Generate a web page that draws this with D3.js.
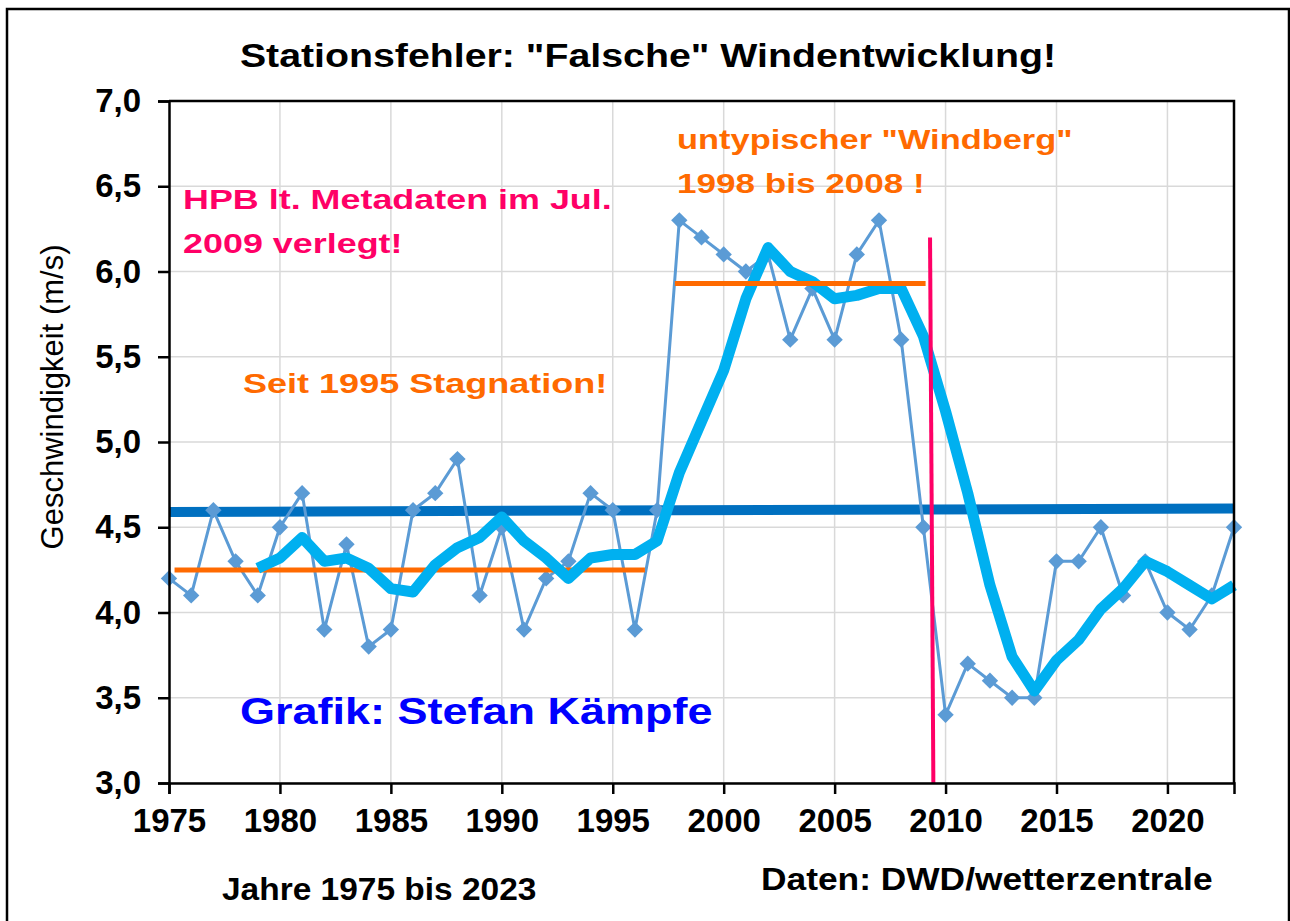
<!DOCTYPE html>
<html>
<head>
<meta charset="utf-8">
<script src="https://cdn.jsdelivr.net/npm/d3@7"></script>
<style>
  body { margin: 0; background: #fff; }
  svg text { font-family: "Liberation Sans", Arial, sans-serif; }
</style>
</head>
<body>
<div id="chart"></div>
<script>
// Jahreswerte Windgeschwindigkeit (m/s)
var years = d3.range(1975, 2024)
var speed = [4.2, 4.1, 4.6, 4.3, 4.1, 4.5, 4.7, 3.9, 4.4, 3.8,
             3.9, 4.6, 4.7, 4.9, 4.1, 4.5, 3.9, 4.2, 4.3, 4.7,
             4.6, 3.9, 4.6, 6.3, 6.2, 6.1, 6.0, 6.1, 5.6, 5.9,
             5.6, 6.1, 6.3, 5.6, 4.5, 3.4, 3.7, 3.6, 3.5, 3.5,
             4.3, 4.3, 4.5, 4.1, 4.3, 4.0, 3.9, 4.1, 4.5]

var avgYears = d3.range(1979, 2024)
var avgSpeed = [4.26, 4.32, 4.44, 4.30, 4.32, 4.26, 4.14, 4.12, 4.28, 4.38,
                4.44, 4.56, 4.42, 4.32, 4.20, 4.32, 4.34, 4.34, 4.42, 4.82,
                5.12, 5.42, 5.84, 6.14, 6.00, 5.94, 5.84, 5.86, 5.90, 5.90,
                5.62, 5.18, 4.70, 4.16, 3.74, 3.54, 3.72, 3.84, 4.02, 4.14,
                4.30, 4.24, 4.16, 4.08, 4.16]

// linearer Trend (dunkelblau)
var trendYears = [1975, 2023]
var trendSpeed = [4.59, 4.61]

// orange Mittelwert-Linien
var level1Years = [1975.25, 1996.45]
var level1Speed = [4.25, 4.25]
var level2Years = [1997.8, 2009.1]
var level2Speed = [5.93, 5.93]

// Verlegung der Station (rote Linie)
var moveYears = [2009.3, 2009.45]
var moveSpeed = [6.2, 3.0]

var yTicks = [3.0, 3.5, 4.0, 4.5, 5.0, 5.5, 6.0, 6.5, 7.0]
var xTicks = [1975, 1980, 1985, 1990, 1995, 2000, 2005, 2010, 2015, 2020]

var margin = {top: 101, right: 56, bottom: 138, left: 169},
    width = 1290 - margin.left - margin.right,
    height = 921 - margin.top - margin.bottom

var x = d3.scaleLinear().domain([1975, 2023]).range([0, width])
var y = d3.scaleLinear().domain([3, 7]).range([height, 0])

var root = d3.select("#chart")
  .append("svg")
  .attr("width", 1290)
  .attr("height", 921)

// Rahmen
root.append("rect")
  .attr("x", 7).attr("y", 9)
  .attr("width", 1282).attr("height", 930)
  .attr("fill", "#fff")
  .attr("stroke", "#000")
  .attr("stroke-width", 2.5)

// Beschriftungen (im Original etwas in die Breite gezogen)
function note(px, py, size, sx, color, txt, anchor) {
  root.append("text")
    .attr("transform", "translate(" + px + "," + py + ") scale(" + sx + ",1)")
    .attr("text-anchor", anchor || "start")
    .attr("fill", color)
    .style("font-size", size + "px").style("font-weight", "bold")
    .text(txt)
}

note(648, 67, 34, 1.156, "#000", 'Stationsfehler: "Falsche" Windentwicklung!', "middle")

var svg = root.append("g")
  .attr("transform", "translate(" + margin.left + "," + margin.top + ")")

// Gitter
svg.append("g")
  .selectAll("line")
  .data(yTicks)
  .enter().append("line")
    .attr("x1", 0).attr("x2", width)
    .attr("y1", function(d) { return y(d) }).attr("y2", function(d) { return y(d) })
    .attr("stroke", "#d9d9d9").attr("stroke-width", 1.5)

svg.append("g")
  .selectAll("line")
  .data(xTicks.slice(1))
  .enter().append("line")
    .attr("x1", function(d) { return x(d) }).attr("x2", function(d) { return x(d) })
    .attr("y1", 0).attr("y2", height)
    .attr("stroke", "#d9d9d9").attr("stroke-width", 1.5)

var line = d3.line()
  .x(function(d) { return x(d[0]) })
  .y(function(d) { return y(d[1]) })

function pairs(xs, ys) {
  return xs.map(function(v, i) { return [v, ys[i]] })
}

// Trend
svg.append("path")
  .datum(pairs(trendYears, trendSpeed))
  .attr("d", line)
  .attr("fill", "none").attr("stroke", "#0070c0").attr("stroke-width", 10)

// Jahreswerte
svg.append("path")
  .datum(pairs(years, speed))
  .attr("d", line)
  .attr("fill", "none").attr("stroke", "#5b9bd5").attr("stroke-width", 3)

svg.append("g")
  .selectAll("path")
  .data(pairs(years, speed))
  .enter().append("path")
    .attr("transform", function(d) { return "translate(" + x(d[0]) + "," + y(d[1]) + ")" })
    .attr("d", d3.symbol().type(d3.symbolDiamond2).size(170))
    .attr("fill", "#5b9bd5")

// orange Linien
svg.append("path")
  .datum(pairs(level1Years, level1Speed))
  .attr("d", line)
  .attr("fill", "none").attr("stroke", "#ff6a00").attr("stroke-width", 5)

// gleitendes Mittel
svg.append("path")
  .datum(pairs(avgYears, avgSpeed))
  .attr("d", line)
  .attr("fill", "none").attr("stroke", "#00b0f0").attr("stroke-width", 11)
  .attr("stroke-linejoin", "round")

svg.append("path")
  .datum(pairs(level2Years, level2Speed))
  .attr("d", line)
  .attr("fill", "none").attr("stroke", "#ff6a00").attr("stroke-width", 5)

svg.append("path")
  .datum(pairs(moveYears, moveSpeed))
  .attr("d", line)
  .attr("fill", "none").attr("stroke", "#ff0066").attr("stroke-width", 4)

// Achsen
var fmt = function(d) { return d3.format(".1f")(d).replace(".", ",") }

svg.append("g")
  .call(d3.axisLeft(y).tickValues(yTicks).tickFormat(fmt).tickSize(11).tickPadding(17))

svg.append("g")
  .attr("transform", "translate(0," + height + ")")
  .call(d3.axisBottom(x).tickValues(xTicks).tickFormat(d3.format("d")).tickSize(11).tickPadding(15))

root.selectAll(".tick text")
  .style("font-size", "33px").style("font-weight", "bold")
  .style("font-family", '"Liberation Sans", Arial, sans-serif')
  .attr("fill", "#000")
root.selectAll(".domain, .tick line").attr("stroke", "#000").attr("stroke-width", 2.5)

// rechter und oberer Rand der Zeichenfläche
svg.append("path")
  .attr("d", "M0,0H" + width + "V" + height)
  .attr("fill", "none").attr("stroke", "#000").attr("stroke-width", 2.5)

svg.append("text")
  .attr("transform", "rotate(-90)")
  .attr("x", -296)
  .attr("y", -106)
  .attr("text-anchor", "middle")
  .style("font-size", "31px")
  .text("Geschwindigkeit (m/s)")

note(677, 149, 27, 1.275, "#ff6a00", 'untypischer "Windberg"')
note(677, 193, 27, 1.3, "#ff6a00", "1998 bis 2008 !")
note(183, 209, 27, 1.33, "#ff0066", "HPB lt. Metadaten im Jul.")
note(183, 253, 27, 1.33, "#ff0066", "2009 verlegt!")
note(243, 393, 27, 1.335, "#ff6a00", "Seit 1995 Stagnation!")
note(240, 724, 36, 1.25, "#0000ff", "Grafik: Stefan Kämpfe")
note(222, 900, 31, 1.08, "#000", "Jahre 1975 bis 2023")
note(761, 890, 31, 1.14, "#000", "Daten: DWD/wetterzentrale")
</script>
</body>
</html>
